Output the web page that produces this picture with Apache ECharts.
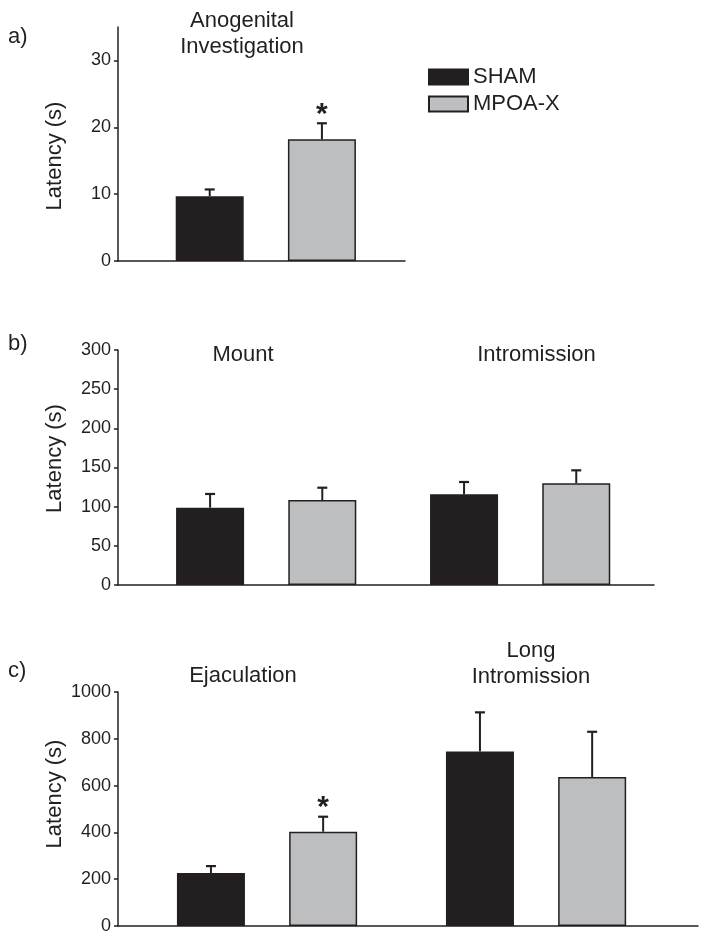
<!DOCTYPE html>
<html>
<head>
<meta charset="utf-8">
<title>Latency</title>
<script src="https://cdn.jsdelivr.net/npm/echarts@6.0.0/dist/echarts.min.js"></script>
<style>
html, body {margin: 0; padding: 0; background: #fff;}
#main {width: 704px; height: 941px;}
</style>
</head>
<body>
<div id="main"></div>
<script>
// a) anogenital investigation
var groupsA = ['Anogenital\nInvestigation'];
var shamA = [9.7];
var shamErrA = [1.0];
var mpoaA = [18.2];
var mpoaErrA = [2.4];
var sigA = ['*'];
var ticksA = [0, 10, 20, 30];

// b) mount / intromission
var groupsB = ['Mount', 'Intromission'];
var shamB = [98.7, 115.8];
var shamErrB = [17.5, 15.7];
var mpoaB = [108.5, 130];
var mpoaErrB = [15.7, 16.4];
var sigB = ['', ''];
var ticksB = [0, 50, 100, 150, 200, 250, 300];

// c) ejaculation / long intromission
var groupsC = ['Ejaculation', 'Long\nIntromission'];
var shamC = [226, 746];
var shamErrC = [30, 167];
var mpoaC = [403, 637];
var mpoaErrC = [64, 193];
var sigC = ['*', ''];
var ticksC = [0, 200, 400, 600, 800, 1000];

var seriesNames = ['SHAM', 'MPOA-X'];
var panelLabels = ['a)', 'b)', 'c)'];
var yName = 'Latency (s)';

var INK = '#231f20';
var GREY = '#bcbec0';
var FONT = "'Liberation Sans', Arial, Helvetica, sans-serif";
var BAR_W = 68;
var BAR_GAP = 0.65;
var SHIFT = BAR_W * (1 + BAR_GAP) / 2;

var panels = [
    {groups: groupsA, sham: shamA, shamErr: shamErrA, mpoa: mpoaA, mpoaErr: mpoaErrA, sig: sigA, ticks: ticksA,
        grid: {left: 118, top: 27, width: 287, height: 234}, xr: [-0.582, 0.548], max: 35, step: 10,
        titles: [[242, 33.5]], label: [8, 37], namePad: [0, 24, 0, 0]},
    {groups: groupsB, sham: shamB, shamErr: shamErrB, mpoa: mpoaB, mpoaErr: mpoaErrB, sig: sigB, ticks: ticksB,
        grid: {left: 118, top: 350, width: 536, height: 235}, xr: [-0.5835, 1.527], max: 300, step: 50,
        titles: [[243, 354.5], [536.5, 354.5]], label: [8, 344], namePad: [0, 0, 0, 18]},
    {groups: groupsC, sham: shamC, shamErr: shamErrC, mpoa: mpoaC, mpoaErr: mpoaErrC, sig: sigC, ticks: ticksC,
        grid: {left: 118, top: 692, width: 580, height: 234}, xr: [-0.554, 1.602], max: 1000, step: 200,
        titles: [[243, 676], [531, 663.5]], label: [8, 671], namePad: [0, 0, 0, 30]}
];

function bars(p, name, values, fill) {
    return {
        type: 'bar',
        name: name,
        xAxisIndex: p,
        yAxisIndex: p,
        barWidth: BAR_W,
        barGap: (BAR_GAP * 100) + '%',
        data: values.map(function (v, i) { return [i, v]; }),
        itemStyle: {color: fill, borderColor: INK, borderWidth: 1.5},
        emphasis: {disabled: true}
    };
}

// upper error bar (and significance mark) drawn over each bar
function errorBars(p, means, errs, sigs, side) {
    return {
        type: 'custom',
        xAxisIndex: p,
        yAxisIndex: p,
        z: 3,
        data: means.map(function (m, i) { return [i, m, m + errs[i]]; }),
        encode: {x: 0, y: [1, 2]},
        renderItem: function (params, api) {
            var bottom = api.coord([api.value(0), api.value(1)]);
            var top = api.coord([api.value(0), api.value(2)]);
            var x = bottom[0] + side * SHIFT;
            var children = [
                {type: 'line', shape: {x1: x, y1: bottom[1], x2: x, y2: top[1]}, style: {stroke: INK, lineWidth: 2}},
                {type: 'line', shape: {x1: x - 5, y1: top[1], x2: x + 5, y2: top[1]}, style: {stroke: INK, lineWidth: 2.2}}
            ];
            var s = sigs ? sigs[params.dataIndex] : '';
            if (s) {
                children.push({type: 'text', x: x, y: top[1] - 9,
                    style: {text: s, font: 'bold 30px ' + FONT, fill: INK, align: 'center', verticalAlign: 'middle'}});
            }
            return {type: 'group', children: children};
        }
    };
}

var grid = [], xAxis = [], yAxis = [], series = [], graphic = [];
for (var p = 0; p < panels.length; p++) {
    var d = panels[p];
    grid.push({left: d.grid.left, top: d.grid.top, width: d.grid.width, height: d.grid.height, outerBoundsMode: 'none'});
    xAxis.push({
        type: 'value', gridIndex: p, min: d.xr[0], max: d.xr[1],
        axisLine: {show: true, onZero: false, lineStyle: {color: INK, width: 1.5}},
        axisTick: {show: false}, axisLabel: {show: false}, splitLine: {show: false}
    });
    yAxis.push({
        type: 'value', gridIndex: p, min: 0, max: d.max, interval: d.step,
        name: yName, nameLocation: 'middle', nameGap: 52, nameRotate: 90, nameMoveOverlap: false,
        nameTextStyle: {fontFamily: FONT, fontSize: 22, color: INK, padding: d.namePad},
        axisLine: {show: true, onZero: false, lineStyle: {color: INK, width: 1.5}},
        axisTick: {show: true, length: 4, customValues: d.ticks, lineStyle: {color: INK, width: 1.5}},
        axisLabel: {customValues: d.ticks, margin: 7, fontFamily: FONT, fontSize: 18, color: INK,
            formatter: function (v) { return String(v); }},
        splitLine: {show: false}
    });
    series.push(bars(p, seriesNames[0], d.sham, INK));
    series.push(bars(p, seriesNames[1], d.mpoa, GREY));
    series.push(errorBars(p, d.sham, d.shamErr, null, -1));
    series.push(errorBars(p, d.mpoa, d.mpoaErr, d.sig, 1));

    for (var g = 0; g < d.groups.length; g++) {
        graphic.push({type: 'text', x: d.titles[g][0], y: d.titles[g][1],
            style: {text: d.groups[g], font: '22px ' + FONT, fill: INK, align: 'center', verticalAlign: 'middle', lineHeight: 26}});
    }
    graphic.push({type: 'text', x: d.label[0], y: d.label[1],
        style: {text: panelLabels[p], font: '22px ' + FONT, fill: INK, align: 'left', verticalAlign: 'middle'}});
}

var chart = echarts.init(document.getElementById('main'));
chart.setOption({
    animation: false,
    backgroundColor: '#fff',
    legend: {
        data: seriesNames, orient: 'vertical', left: 428, top: 66, padding: 0,
        itemWidth: 39, itemHeight: 15, itemGap: 5, icon: 'rect', selectedMode: false,
        textStyle: {fontFamily: FONT, fontSize: 22, color: INK}
    },
    grid: grid,
    xAxis: xAxis,
    yAxis: yAxis,
    series: series,
    graphic: graphic
});
</script>
</body>
</html>
